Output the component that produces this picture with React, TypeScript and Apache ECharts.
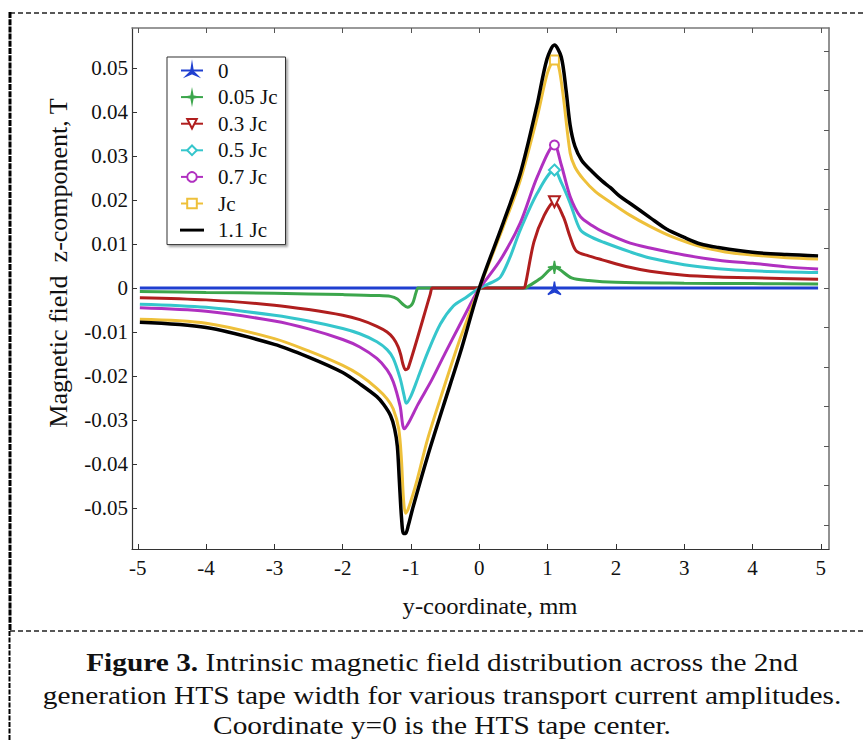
import React, { useEffect, useRef } from "react";
import * as echarts from "echarts";

// ---- tick values ----
const X_TICKS = [-5, -4, -3, -2, -1, 0, 1, 2, 3, 4, 5];
const Y_TICKS = [-0.05, -0.04, -0.03, -0.02, -0.01, 0, 0.01, 0.02, 0.03, 0.04, 0.05];
const RIGHT_TICKS = [-0.06, -0.05, -0.04, -0.03, -0.02, -0.01, 0, 0.01, 0.02, 0.03, 0.04, 0.05, 0.06];

// ---- series (x in mm, Bz in T) ----
const NAMES = ["0", "0.05 Jc", "0.3 Jc", "0.5 Jc", "0.7 Jc", "Jc", "1.1 Jc"];
const MARKER_X = 1.1;

const B_0 = [[-4.97, 0], [1.1, 0], [4.96, 0]];
const B_005 = [[-4.97, -0.0008], [-4, -0.001], [-3, -0.0012], [-2, -0.0015], [-1.5, -0.0017], [-1.3, -0.0019], [-1.2, -0.0025], [-1.12, -0.0037], [-1.05, -0.0044], [-0.98, -0.0036], [-0.93, -0.0012], [-0.9, 0], [-0.88, 0], [0.68, 0], [0.7, 0.0002], [0.9, 0.0022], [1.1, 0.0047], [1.35, 0.0023], [1.6, 0.0017], [2, 0.0013], [3, 0.0011], [4, 0.001], [4.96, 0.0009]];
const B_03 = [[-4.97, -0.0022], [-4, -0.0027], [-3, -0.0039], [-2.5, -0.0049], [-2, -0.0062], [-1.75, -0.0072], [-1.5, -0.0087], [-1.35, -0.01], [-1.26, -0.0114], [-1.19, -0.0133], [-1.15, -0.0152], [-1.12, -0.0172], [-1.08, -0.0186], [-1.04, -0.0182], [-0.72, -0.0015], [-0.69, 0], [-0.66, 0], [0.64, 0], [0.67, 0.0004], [0.8, 0.0105], [0.95, 0.0165], [1.1, 0.0196], [1.23, 0.0162], [1.33, 0.0116], [1.42, 0.0084], [1.6, 0.0073], [1.8, 0.0064], [2.2, 0.0047], [2.5, 0.0038], [3, 0.0029], [3.5, 0.0025], [4, 0.0023], [4.96, 0.002]];
const B_05 = [[-4.97, -0.0037], [-4, -0.0044], [-3, -0.0062], [-2.5, -0.0075], [-2, -0.0092], [-1.75, -0.0104], [-1.5, -0.0122], [-1.35, -0.014], [-1.26, -0.016], [-1.16, -0.0205], [-1.1, -0.0245], [-1.07, -0.0262], [-1.0, -0.0245], [-0.9, -0.0205], [-0.76, -0.0148], [-0.57, -0.0082], [-0.38, -0.0041], [-0.2, -0.0022], [0, 0], [0.2, 0.0014], [0.31, 0.0025], [0.45, 0.007], [0.6, 0.0132], [0.85, 0.0216], [1.1, 0.0268], [1.2, 0.024], [1.33, 0.0193], [1.48, 0.0132], [1.65, 0.0115], [1.82, 0.0104], [2.21, 0.0082], [2.5, 0.0068], [3, 0.0053], [3.5, 0.0044], [4, 0.0039], [4.96, 0.0035]];
const B_07 = [[-4.97, -0.0045], [-4, -0.0053], [-3, -0.0075], [-2.5, -0.0093], [-2, -0.0117], [-1.75, -0.0134], [-1.5, -0.016], [-1.35, -0.0186], [-1.26, -0.0213], [-1.16, -0.0268], [-1.1, -0.032], [-1.03, -0.0305], [-0.9, -0.0265], [-0.7, -0.021], [-0.5, -0.0148], [-0.3, -0.0088], [-0.1, -0.0028], [0, 0], [0.06, 0.0011], [0.31, 0.0064], [0.6, 0.0148], [0.85, 0.0253], [1.1, 0.0325], [1.2, 0.028], [1.33, 0.0208], [1.48, 0.0162], [1.65, 0.0142], [1.82, 0.0127], [2.21, 0.0102], [2.5, 0.0091], [3, 0.0075], [3.5, 0.0063], [4, 0.0056], [4.5, 0.0048], [4.96, 0.0043]];
const B_10 = [[-4.97, -0.0071], [-4, -0.008], [-3, -0.0115], [-2.5, -0.0143], [-2, -0.0176], [-1.75, -0.0198], [-1.5, -0.0228], [-1.35, -0.0252], [-1.26, -0.0275], [-1.18, -0.032], [-1.14, -0.039], [-1.11, -0.048], [-1.08, -0.0512], [-1.04, -0.0502], [-0.91, -0.0436], [-0.76, -0.0345], [-0.53, -0.0232], [-0.28, -0.0115], [0, 0], [0.35, 0.0139], [0.6, 0.0245], [0.85, 0.039], [1.0, 0.049], [1.1, 0.0518], [1.16, 0.0505], [1.23, 0.0435], [1.33, 0.0307], [1.4, 0.0275], [1.52, 0.0248], [1.7, 0.0219], [1.92, 0.0195], [2.21, 0.0165], [2.5, 0.014], [2.8, 0.0118], [3.24, 0.0094], [3.6, 0.0082], [4, 0.0075], [4.5, 0.0069], [4.96, 0.0066]];
const B_11 = [[-4.97, -0.0078], [-4, -0.009], [-3, -0.0128], [-2.5, -0.0157], [-2, -0.0192], [-1.75, -0.0218], [-1.5, -0.0247], [-1.4, -0.0265], [-1.3, -0.029], [-1.24, -0.032], [-1.2, -0.036], [-1.17, -0.044], [-1.14, -0.052], [-1.11, -0.0558], [-1.08, -0.0558], [-1.04, -0.054], [-0.97, -0.0498], [-0.76, -0.0384], [-0.53, -0.027], [-0.28, -0.0148], [0, 0], [0.35, 0.0148], [0.6, 0.026], [0.84, 0.0412], [0.99, 0.052], [1.1, 0.0552], [1.2, 0.0525], [1.27, 0.045], [1.33, 0.037], [1.4, 0.0322], [1.5, 0.029], [1.65, 0.0265], [1.8, 0.0243], [1.92, 0.0228], [2.06, 0.0208], [2.21, 0.0192], [2.5, 0.016], [2.74, 0.0134], [3, 0.0115], [3.24, 0.01], [3.5, 0.0092], [4, 0.0081], [4.5, 0.0076], [4.96, 0.0073]];

const DATA = [B_0, B_005, B_03, B_05, B_07, B_10, B_11];
const COLORS = ["#1f3fd0", "#3ca64c", "#b01e1e", "#35c6cc", "#b030c0", "#eec03a", "#000000"];

const STAR3 = "path://M0,-10 L1.6,-1.2 L8.7,5 L0,1.8 L-8.7,5 L-1.6,-1.2 Z";
const STAR4 = "path://M0,-10 L1.6,-1.6 L10,0 L1.6,1.6 L0,10 L-1.6,1.6 L-10,0 L-1.6,-1.6 Z";
const SYMBOLS = [STAR3, STAR4, "emptyTriangle", "emptyDiamond", "emptyCircle", "emptyRect", "none"];
const SYMBOL_ROT = [0, 0, 180, 0, 0, 0, 0];
const SYMBOL_SIZE = [13, 13, 11, 11, 9, 9, 0];

const FONT = "Liberation Serif";

export default function App() {
  const ref = useRef<HTMLDivElement>(null);
  useEffect(() => {
    if (!ref.current) return;
    const chart = echarts.init(ref.current, null, { renderer: "svg" });

    const series = DATA.map((d, i) => ({
      name: NAMES[i],
      type: "line",
      data: d,
      xAxisIndex: 0,
      yAxisIndex: 0,
      smooth: i === 0 ? false : 0.3,
      symbol: i === 6 ? "none" : SYMBOLS[i],
      symbolRotate: SYMBOL_ROT[i],
      symbolSize: (v: number[]) => (v[0] === MARKER_X ? SYMBOL_SIZE[i] : 0),
      showSymbol: i !== 6,
      lineStyle: { color: COLORS[i], width: i === 6 ? 3.5 : 3 },
      itemStyle: { color: COLORS[i], borderColor: COLORS[i], borderWidth: 1.5 },
      emphasis: { disabled: true },
      z: 2 + i,
    }));

    const legendData = NAMES.map((n, i) =>
      i === 6
        ? { name: n, icon: "path://M0,0 L24,0 L24,1 L0,1 Z", itemStyle: { color: "#333" } }
        : { name: n }
    );

    chart.setOption({
      animation: false,
      backgroundColor: "#fff",
      grid: { left: 132, right: 35, top: 28, bottom: 191, show: false },
      legend: {
        orient: "vertical",
        left: 167,
        top: 57,
        data: legendData,
        itemWidth: 22,
        itemHeight: 12,
        itemGap: 5.6,
        padding: [3, 8, 4, 13],
        borderColor: "#333",
        borderWidth: 1,
        backgroundColor: "#fff",
        shadowColor: "rgba(0,0,0,0.35)",
        shadowBlur: 2,
        shadowOffsetX: 2,
        shadowOffsetY: 2,
        lineStyle: { width: 2 },
        selectedMode: false,
        textStyle: { fontFamily: FONT, fontSize: 21, color: "#111", lineHeight: 20, padding: [0, 0, 0, 10] },
      },
      xAxis: [
        {
          type: "value",
          position: "bottom",
          min: -5.085,
          max: 5.12,
          splitLine: { show: false },
          axisLine: { show: true, onZero: false, lineStyle: { color: "#333", width: 1.2 } },
          axisTick: { show: true, inside: true, length: 5, customValues: X_TICKS, lineStyle: { color: "#333" } },
          axisLabel: {
            customValues: X_TICKS,
            margin: 8,
            fontFamily: FONT,
            fontSize: 21,
            color: "#111",
            formatter: (v: number) => String(Math.round(v)),
          },
        },
        {
          type: "value",
          position: "top",
          min: -5.085,
          max: 5.12,
          splitLine: { show: false },
          axisLine: { show: true, onZero: false, lineStyle: { color: "#777", width: 1.6 } },
          axisTick: { show: true, inside: true, length: 5, customValues: X_TICKS, lineStyle: { color: "#555" } },
          axisLabel: { show: false },
        },
      ],
      yAxis: [
        {
          type: "value",
          position: "left",
          min: -0.05932,
          max: 0.05909,
          splitLine: { show: false },
          axisLine: { show: true, onZero: false, lineStyle: { color: "#333", width: 1.2 } },
          axisTick: { show: true, inside: true, length: 5, customValues: Y_TICKS, lineStyle: { color: "#333" } },
          axisLabel: {
            customValues: Y_TICKS,
            margin: 4,
            fontFamily: FONT,
            fontSize: 21,
            color: "#111",
            formatter: (v: number) => (Math.abs(v) < 1e-9 ? "0" : v.toFixed(2)),
          },
        },
        {
          type: "value",
          position: "right",
          min: -0.0661,
          max: 0.0658,
          splitLine: { show: false },
          axisLine: { show: true, onZero: false, lineStyle: { color: "#777", width: 1.6 } },
          axisTick: { show: true, inside: true, length: 5, customValues: RIGHT_TICKS, lineStyle: { color: "#555" } },
          axisLabel: { show: false },
        },
      ],
      series,
      graphic: [
        // dashed frame
        { type: "line", shape: { x1: 10, y1: 13, x2: 864, y2: 13 }, style: { stroke: "#222", lineWidth: 1.5, lineDash: [5, 3] }, silent: true },
        { type: "line", shape: { x1: 10, y1: 631, x2: 864, y2: 631 }, style: { stroke: "#222", lineWidth: 1.5, lineDash: [5, 3] }, silent: true },
        { type: "line", shape: { x1: 10, y1: 12, x2: 10, y2: 631 }, style: { stroke: "#000", lineWidth: 3, lineDash: [6, 1.2] }, silent: true },
        { type: "line", shape: { x1: 9.5, y1: 631, x2: 9.5, y2: 740 }, style: { stroke: "#000", lineWidth: 2, lineDash: [5, 1.5] }, silent: true },
        // axis titles
        {
          type: "text",
          x: 490,
          y: 606,
          scaleX: 1.07,
          style: { text: "y-coordinate, mm", fontFamily: FONT, fontSize: 23, fill: "#111", align: "center", verticalAlign: "middle" },
        },
        {
          type: "text",
          x: 58,
          y: 263,
          rotation: Math.PI / 2,
          style: { text: "Magnetic field  z-component, T", fontFamily: FONT, fontSize: 26, fill: "#111", align: "center", verticalAlign: "middle" },
        },
        // caption
        {
          type: "text",
          x: 442,
          y: 662,
          scaleX: 1.13,
          style: {
            text: "{b|Figure 3.} Intrinsic magnetic field distribution across the 2nd",
            fontFamily: FONT,
            fontSize: 26,
            fill: "#111",
            align: "center",
            verticalAlign: "middle",
            rich: { b: { fontWeight: "bold", fontSize: 26, fontFamily: FONT, fill: "#111" } },
          },
        },
        {
          type: "text",
          x: 442,
          y: 695,
          scaleX: 1.13,
          style: { text: "generation HTS tape width for various transport current amplitudes.", fontFamily: FONT, fontSize: 26, fill: "#111", align: "center", verticalAlign: "middle" },
        },
        {
          type: "text",
          x: 442,
          y: 725,
          scaleX: 1.13,
          style: { text: "Coordinate y=0 is the HTS tape center.", fontFamily: FONT, fontSize: 26, fill: "#111", align: "center", verticalAlign: "middle" },
        },
      ],
    });
    return () => chart.dispose();
  }, []);
  return <div ref={ref} style={{ width: 864, height: 740, position: "absolute", left: 0, top: 0 }} />;
}
